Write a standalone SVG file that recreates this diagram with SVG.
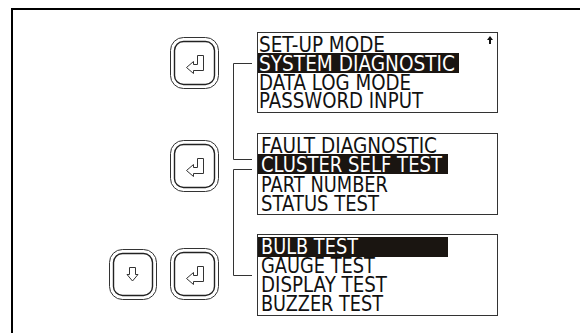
<svg xmlns="http://www.w3.org/2000/svg" width="580" height="333" viewBox="0 0 580 333">
<defs>
<style>
text{font-family:"DejaVu Sans","Liberation Sans",sans-serif;font-size:20.5px;fill:#111}
.inv{fill:#fff}
.panel{fill:#fff;stroke:#333;stroke-width:1}
.bar{fill:#1a1511}
.conn{fill:none;stroke:#333;stroke-width:1}
.btn{fill:#fff;stroke:#333;stroke-width:1}
.btn2{fill:#fff;stroke:#222;stroke-width:1.400}
.glyph{fill:#fff;stroke:#333;stroke-width:1}
</style>
<g id="enter">
<rect class="btn" x="0.5" y="0.5" width="48" height="51" rx="13"/>
<rect class="btn2" x="4.5" y="4.5" width="40" height="43" rx="9"/>
<path class="glyph" d="M16.500 30.500l7-6v3h4v-9h6v15h-10v3z"/>
</g>
</defs>
<path id="frame" d="M12 333V9H580" fill="none" stroke="#000" stroke-width="2"/>
<g id="connectors">
<path class="conn" d="M252 63.500H233.500V159.500H252"/>
<path class="conn" d="M252 169.500H233.500V275.500H252"/>
</g>
<g id="btn-1"><use href="#enter" x="170" y="37"/></g>
<g id="btn-2"><use href="#enter" x="170" y="140"/></g>
<g id="btn-3"><use href="#enter" x="170" y="248"/></g>
<g id="btn-down">
<rect class="btn" x="109.500" y="249.500" width="47" height="50" rx="13"/>
<rect class="btn2" x="113.500" y="253.500" width="39" height="42" rx="9"/>
<path class="glyph" d="M129.500 267.500h6v7h2.500l-5.500 6.500-5.500-6.500h2.500z"/>
</g>
<g id="panel-1">
<rect class="panel" x="257.500" y="32.500" width="240" height="80"/>
<rect class="bar" x="258" y="53" width="201" height="20"/>
<text x="259" y="52" textLength="126" lengthAdjust="spacingAndGlyphs">SET-UP MODE</text>
<text class="inv" x="259" y="71" textLength="196" lengthAdjust="spacingAndGlyphs">SYSTEM DIAGNOSTIC</text>
<text x="259" y="90" textLength="152" lengthAdjust="spacingAndGlyphs">DATA LOG MODE</text>
<text x="259" y="108" textLength="164" lengthAdjust="spacingAndGlyphs">PASSWORD INPUT</text>
<path d="M490 36l-3 4h2v4h2v-4h2z" fill="#111"/>
</g>
<g id="panel-2">
<rect class="panel" x="257.500" y="133.500" width="240" height="81"/>
<rect class="bar" x="258" y="154" width="190" height="20"/>
<text x="261" y="153" textLength="176" lengthAdjust="spacingAndGlyphs">FAULT DIAGNOSTIC</text>
<text class="inv" x="261" y="172" textLength="181" lengthAdjust="spacingAndGlyphs">CLUSTER SELF TEST</text>
<text x="261" y="192" textLength="127" lengthAdjust="spacingAndGlyphs">PART NUMBER</text>
<text x="261" y="211" textLength="118" lengthAdjust="spacingAndGlyphs">STATUS TEST</text>
</g>
<g id="panel-3">
<rect class="panel" x="257.500" y="234.500" width="240" height="81"/>
<rect class="bar" x="258" y="237" width="190" height="20"/>
<text class="inv" x="261" y="254" textLength="97" lengthAdjust="spacingAndGlyphs">BULB TEST</text>
<text x="261" y="273" textLength="114" lengthAdjust="spacingAndGlyphs">GAUGE TEST</text>
<text x="261" y="292" textLength="126" lengthAdjust="spacingAndGlyphs">DISPLAY TEST</text>
<text x="261" y="311" textLength="122" lengthAdjust="spacingAndGlyphs">BUZZER TEST</text>
</g>
</svg>
